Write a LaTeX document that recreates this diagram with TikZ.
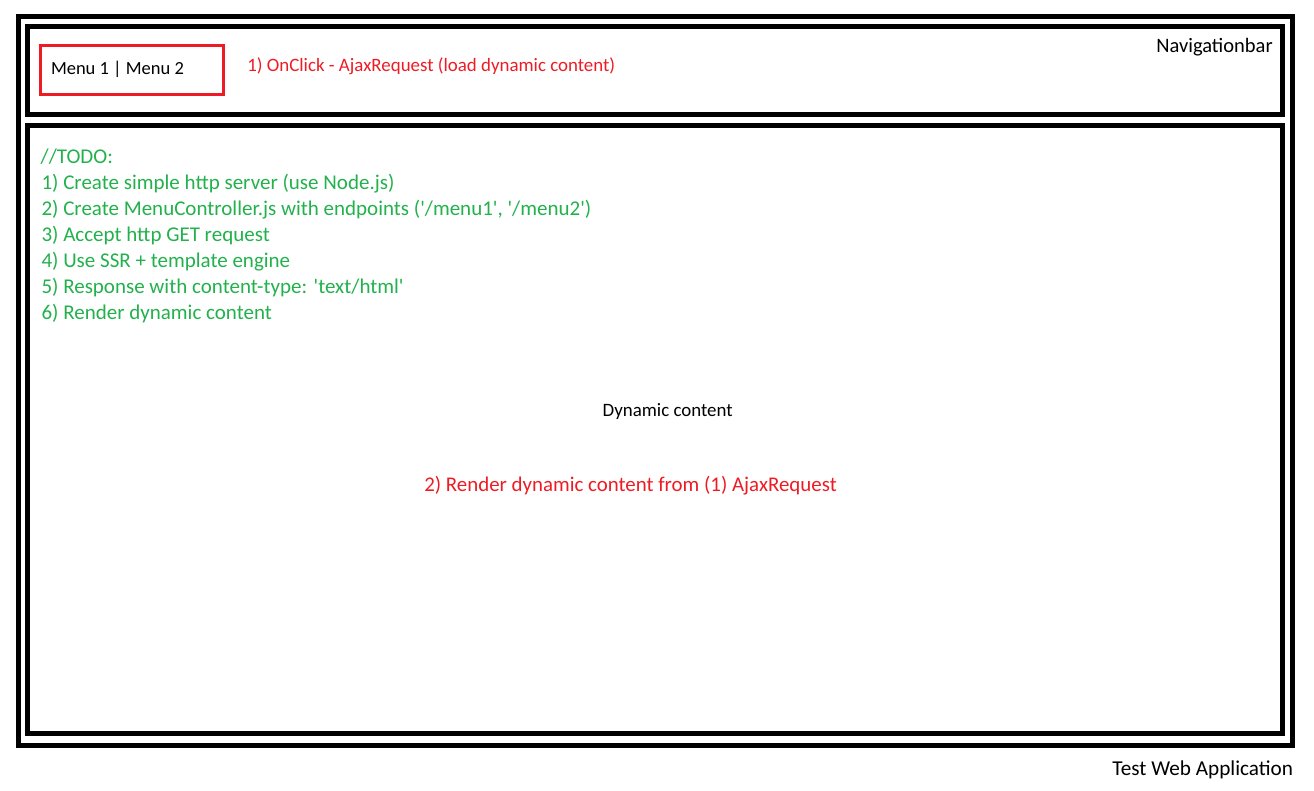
\documentclass[tikz,border=0pt]{standalone}
\usepackage{fontspec}
\setmainfont{Carlito}[Ligatures=TeXOff]
\definecolor{pred}{RGB}{237,28,36}
\definecolor{pgreen}{RGB}{34,177,76}
\begin{document}
\begin{tikzpicture}[x=1pt,y=-1pt,
  frame/.style={draw=black,line width=5pt,inner sep=0pt,outer sep=0pt,anchor=north west},
  menubox/.style={draw=pred,line width=3pt,inner sep=0pt,outer sep=0pt,anchor=north west},
  lbl/.style={inner sep=0pt,outer sep=0pt},
  todo/.style={lbl,anchor=base west,text=pgreen,font=\fontsize{21}{25}\selectfont}]
\useasboundingbox (0,0) rectangle (1314,790);
\node[frame,minimum width=1274pt,minimum height=728.5pt] (app) at (18.5,16.5) {};
\node[frame,minimum width=1255pt,minimum height=88pt] (nav) at (27.5,26.5) {};
\node[frame,minimum width=1255pt,minimum height=608.5pt] (content) at (27.5,125) {};
\node[menubox,minimum width=182.5pt,minimum height=48.7pt] (menu) at (40.5,45.8) {};
\node[lbl,anchor=base west,font=\fontsize{18.5}{22}\selectfont] (menutext) at (51,74) {Menu 1 | Menu 2};
\node[lbl,anchor=base east,font=\fontsize{20.5}{24}\selectfont] (navtext) at (1272.7,52.5) {Navigationbar};
\node[lbl,anchor=base west,text=pred,font=\fontsize{18.9}{22}\selectfont] (step1) at (247.3,71.5) {1) OnClick - AjaxRequest (load dynamic content)};
\node[todo] (t0) at (40.7,163.3) {//TODO:};
\node[todo] (t1) at (41.5,189.3) {1) Create simple http server (use Node.js)};
\node[todo] (t2) at (41.5,215.3) {2) Create MenuController.js with endpoints ('/menu1', '/menu2')};
\node[todo] (t3) at (41.5,241.3) {3) Accept http GET request};
\node[todo] (t4) at (41.5,267.3) {4) Use SSR + template engine};
\node[todo] (t5) at (41.5,293.3) {5) Response with content-type: 'text/html'};
\node[todo] (t6) at (41.5,319.3) {6) Render dynamic content};
\node[lbl,anchor=base west,font=\fontsize{18.9}{22}\selectfont] (dyn) at (602.7,416) {Dynamic content};
\node[lbl,anchor=base west,text=pred,font=\fontsize{20.9}{24}\selectfont] (step2) at (424.3,491) {2) Render dynamic content from (1) AjaxRequest};
\node[lbl,anchor=base east,font=\fontsize{21.2}{25}\selectfont] (apptext) at (1293,775) {Test Web Application};
\end{tikzpicture}
\end{document}
